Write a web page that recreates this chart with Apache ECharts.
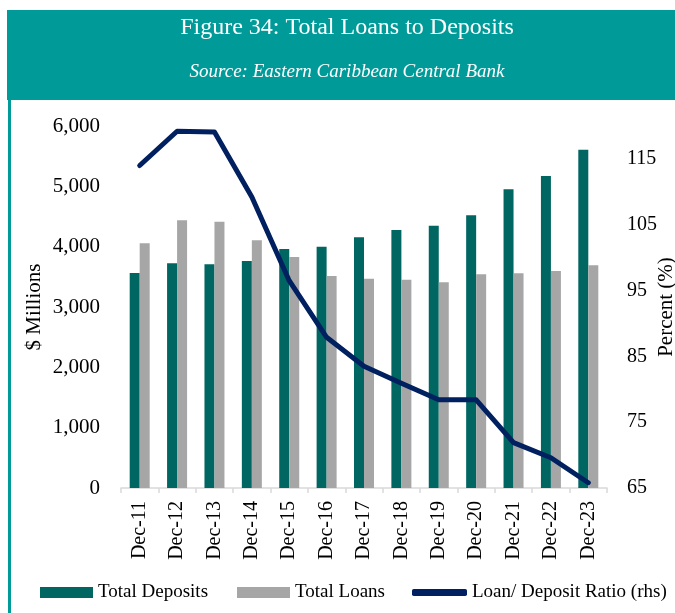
<!DOCTYPE html>
<html>
<head>
<meta charset="utf-8">
<script src="https://cdn.jsdelivr.net/npm/echarts@6/dist/echarts.min.js"></script>
<style>
  html, body { margin: 0; padding: 0; background: #ffffff; }
  #chart { width: 675px; height: 613px; }
</style>
</head>
<body>
<div id="chart"></div>
<script>
// Year-end banking totals ($ millions) and the loan-to-deposit ratio (%)
const categories = ['Dec-11', 'Dec-12', 'Dec-13', 'Dec-14', 'Dec-15', 'Dec-16', 'Dec-17',
                    'Dec-18', 'Dec-19', 'Dec-20', 'Dec-21', 'Dec-22', 'Dec-23'];
const totalDeposits = [3564, 3724, 3707, 3762, 3961, 4000, 4155, 4276, 4348, 4520, 4951, 5171, 5608];
const totalLoans    = [4056, 4437, 4414, 4105, 3829, 3514, 3470, 3453, 3409, 3542, 3558, 3597, 3691];
const ratioPct      = [114.0, 119.2, 119.1, 109.2, 96.5, 87.9, 83.5, 80.9, 78.4, 78.4, 71.9, 69.6, 65.8];

const FONT = '"Liberation Serif", "DejaVu Serif", serif';
const TEAL_BAND = '#009b99';
const DEPOSIT = '#006662';
const LOAN = '#a6a6a6';
const RATIO = '#002060';

const legendText = { fontFamily: FONT, fontSize: 19, color: '#000' };

const chart = echarts.init(document.getElementById('chart'), null, { renderer: 'canvas' });

chart.setOption({
  animation: false,
  backgroundColor: '#ffffff',
  textStyle: { fontFamily: FONT, color: '#000' },
  graphic: [
    // header band
    { type: 'rect', left: 7, top: 10, shape: { width: 668, height: 90 }, style: { fill: TEAL_BAND }, z: 0 },
    // left frame rule
    { type: 'rect', left: 8, top: 98, shape: { width: 3, height: 515 }, style: { fill: TEAL_BAND }, z: 0 },
    { type: 'text', x: 347, y: 28, style: { text: 'Figure 34: Total Loans to Deposits', fill: '#fff', font: '24px ' + FONT, align: 'center', verticalAlign: 'middle' }, z: 5 },
    { type: 'text', x: 347, y: 72, style: { text: 'Source: Eastern Caribbean Central Bank', fill: '#fff', font: 'italic 19px ' + FONT, align: 'center', verticalAlign: 'middle' }, z: 5 }
  ],
  // fixed plot rectangle; axis names may sit close to the canvas edge
  grid: { left: 121, right: 68, top: 126, bottom: 125, containLabel: false, outerBoundsMode: 'none' },
  legend: [
    {
      left: 40, top: 583, padding: 0, itemWidth: 53, itemHeight: 11,
      textStyle: legendText,
      data: [{ name: 'Total Deposits', icon: 'rect' }]
    },
    {
      left: 237, top: 583, padding: 0, itemWidth: 53, itemHeight: 11,
      textStyle: legendText,
      data: [{ name: 'Total Loans', icon: 'rect' }]
    },
    {
      left: 412, top: 583, padding: 0, itemWidth: 55, itemHeight: 7,
      textStyle: legendText,
      data: [{ name: 'Loan/ Deposit Ratio (rhs)', icon: 'roundRect', itemStyle: { color: RATIO } }]
    }
  ],
  xAxis: {
    type: 'category',
    data: categories,
    boundaryGap: true,
    axisLine: { show: true, lineStyle: { color: '#d9d9d9', width: 1.5 } },
    axisTick: { show: true, alignWithLabel: false, length: 5, lineStyle: { color: '#d9d9d9', width: 1.5 } },
    axisLabel: { rotate: 90, fontFamily: FONT, fontSize: 20, color: '#000', margin: 13 }
  },
  yAxis: [
    {
      type: 'value',
      min: 0, max: 6000, interval: 1000,
      name: '$ Millions',
      nameLocation: 'middle',
      nameGap: 76,
      nameRotate: 90,
      nameMoveOverlap: false,
      nameTextStyle: { fontFamily: FONT, fontSize: 21, color: '#000' },
      axisLine: { show: false },
      axisTick: { show: false },
      splitLine: { show: false },
      axisLabel: {
        fontFamily: FONT, fontSize: 21, color: '#000', margin: 21,
        formatter: v => v.toLocaleString('en-US')
      }
    },
    {
      type: 'value',
      min: 65, max: 120, interval: 5,
      name: 'Percent (%)',
      nameLocation: 'middle',
      nameGap: 49,
      nameRotate: 90,
      nameMoveOverlap: false,
      nameTextStyle: { fontFamily: FONT, fontSize: 21, color: '#000' },
      axisLine: { show: false },
      axisTick: { show: false },
      splitLine: { show: false },
      axisLabel: {
        fontFamily: FONT, fontSize: 20, color: '#000', margin: 20,
        formatter: v => ((v - 65) % 10 === 0 && v <= 115) ? String(v) : ''
      }
    }
  ],
  series: [
    {
      name: 'Total Deposits',
      type: 'bar',
      data: totalDeposits,
      barWidth: 10,
      barGap: '0%',
      itemStyle: { color: DEPOSIT },
      z: 2
    },
    {
      name: 'Total Loans',
      type: 'bar',
      data: totalLoans,
      barWidth: 10,
      barGap: '0%',
      itemStyle: { color: LOAN },
      z: 2
    },
    {
      name: 'Loan/ Deposit Ratio (rhs)',
      type: 'line',
      yAxisIndex: 1,
      data: ratioPct,
      symbol: 'none',
      lineStyle: { color: RATIO, width: 5, cap: 'round', join: 'round' },
      itemStyle: { color: RATIO },
      z: 3
    }
  ]
});
</script>
</body>
</html>
